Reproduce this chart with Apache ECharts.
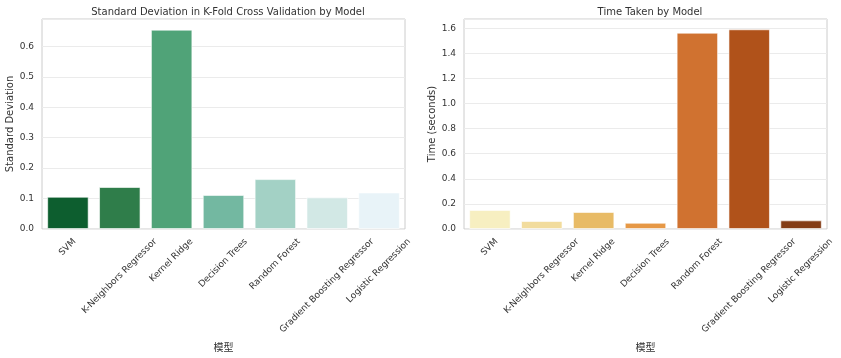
<!DOCTYPE html>
<html>
<head>
<meta charset="utf-8">
<script src="https://cdn.jsdelivr.net/npm/echarts@6/dist/echarts.min.js"></script>
<style>
  html, body { margin: 0; padding: 0; background: #fff; }
  #main { width: 841px; height: 358px; }
</style>
</head>
<body>
<div id="main"></div>
<script>
// models shown on both charts
const models = ['SVM', 'K-Neighbors Regressor', 'Kernel Ridge', 'Decision Trees',
  'Random Forest', 'Gradient Boosting Regressor', 'Logistic Regression'];

// standard deviation of k-fold scores
const stdDev = [0.106, 0.138, 0.655, 0.112, 0.164, 0.104, 0.120];
// time taken (seconds)
const timeTaken = [0.152, 0.064, 0.136, 0.050, 1.565, 1.592, 0.069];

const greens = ['#0d5e2f', '#2f7d4a', '#50a378', '#73b8a1', '#a3d1c5', '#d2e8e5', '#e8f3f8'];
const oranges = ['#f7efc1', '#f2dc9d', '#e8bb66', '#e69846', '#d07230', '#b0521a', '#843c15'];

const FONT = '"DejaVu Sans", sans-serif';
const TXT = '#333';
const labelFont = '9px ' + FONT;

const ctx = document.createElement('canvas').getContext('2d');
ctx.font = labelFont;
function textW(s) { return ctx.measureText(s).width; }

// matplotlib style rotated tick labels: bbox centred under the tick
function rotatedLabels(idx) {
  return {
    type: 'custom',
    xAxisIndex: idx,
    yAxisIndex: idx,
    silent: true,
    z: 10,
    data: models.map(m => [m, 0]),
    renderItem: function (params, api) {
      const name = models[params.dataIndex];
      const p = api.coord([api.value(0), 0]);
      const L = textW(name);
      const h = 10;
      return {
        type: 'text',
        x: p[0] + (L - h) / (2 * Math.SQRT2),
        y: p[1] + 8,
        rotation: Math.PI / 4,
        style: { text: name, font: labelFont, fill: TXT, align: 'right', verticalAlign: 'top' }
      };
    }
  };
}

function barSeries(idx, values, colors) {
  return {
    type: 'bar',
    xAxisIndex: idx,
    yAxisIndex: idx,
    barWidth: '80%',
    data: values.map((v, i) => ({
      value: v,
      itemStyle: { color: colors[i], borderColor: 'rgba(255,255,255,0.6)', borderWidth: 1 }
    }))
  };
}

function yAxis(idx, name, max, interval, gap) {
  return {
    type: 'value',
    gridIndex: idx,
    min: 0,
    max: max,
    interval: interval,
    name: name,
    nameLocation: 'middle',
    nameGap: gap,
    nameTextStyle: { fontFamily: FONT, fontSize: 10, color: TXT },
    axisLine: { show: false },
    axisTick: { show: false },
    axisLabel: {
      fontFamily: FONT, fontSize: 9, color: TXT, margin: 8, showMaxLabel: false,
      formatter: v => v.toFixed(1)
    },
    splitLine: { lineStyle: { color: '#ebebeb', width: 1 } }
  };
}

function xAxis(idx) {
  return {
    type: 'category',
    gridIndex: idx,
    data: models,
    name: '模型',
    nameLocation: 'middle',
    nameGap: 113,
    nameTextStyle: { fontFamily: '"Noto Sans CJK SC", ' + FONT, fontSize: 10, color: TXT },
    axisLine: { show: false },
    axisTick: { show: false },
    axisLabel: { show: false },
    splitLine: { show: false }
  };
}

const chart = echarts.init(document.getElementById('main'));
chart.setOption({
  animation: false,
  backgroundColor: '#fff',
  title: [
    { text: 'Standard Deviation in K-Fold Cross Validation by Model', left: 223, top: 2, textAlign: 'center',
      textStyle: { fontFamily: FONT, fontSize: 10, fontWeight: 'normal', color: TXT } },
    { text: 'Time Taken by Model', left: 645, top: 2, textAlign: 'center',
      textStyle: { fontFamily: FONT, fontSize: 10, fontWeight: 'normal', color: TXT } }
  ],
  grid: [
    { left: 42, right: 436, top: 19, bottom: 129, show: true, borderColor: '#cccccc', borderWidth: 1,
      outerBoundsMode: 'none', containLabel: false },
    { left: 464, right: 14, top: 19, bottom: 129, show: true, borderColor: '#cccccc', borderWidth: 1,
      outerBoundsMode: 'none', containLabel: false }
  ],
  xAxis: [xAxis(0), xAxis(1)],
  yAxis: [
    yAxis(0, 'Standard Deviation', 0.69, 0.1, 27),
    yAxis(1, 'Time (seconds)', 1.674, 0.2, 27)
  ],
  series: [
    barSeries(0, stdDev, greens),
    barSeries(1, timeTaken, oranges),
    rotatedLabels(0),
    rotatedLabels(1)
  ]
});
</script>
</body>
</html>
